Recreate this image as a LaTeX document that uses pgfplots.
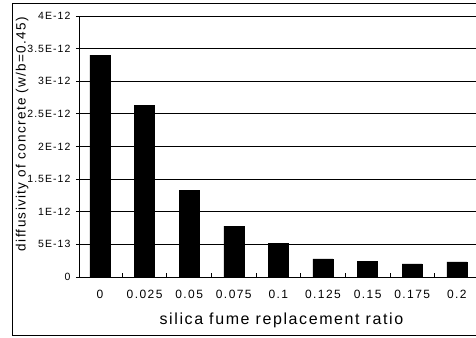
\documentclass[border=0pt]{standalone}
\usepackage{fontspec}
\setmainfont{Liberation Sans}
\newfontfamily\xtfont[LetterSpace=12]{Liberation Sans}
\newfontfamily\ytfont[LetterSpace=10]{Liberation Sans}
\newfontfamily\xlfont[LetterSpace=10]{Liberation Sans}
\newfontfamily\ylfont[LetterSpace=10]{Liberation Sans}
\usepackage{pgfplots}
\pgfplotsset{compat=1.18}
\begin{document}
\begin{tikzpicture}
\path[use as bounding box] (-79pt,-60pt) rectangle (397pt,277pt);
\begin{axis}[
  at={(0,0)}, anchor=south west,
  scale only axis, width=397pt, height=261pt,
  xmin=-0.47, xmax=8.43,
  ymin=0, ymax=4e-12,
  axis x line*=bottom, axis y line*=left,
  axis line style={line width=0.9pt, -},
  ymajorgrids, grid style={black, line width=0.9pt},
  scaled y ticks=false,
  ytick={0,5e-13,1e-12,1.5e-12,2e-12,2.5e-12,3e-12,3.5e-12,4e-12},
  yticklabels={0,5E-13,1E-12,1.5E-12,2E-12,2.5E-12,3E-12,3.5E-12,4E-12},
  xtick={0,1,2,3,4,5,6,7,8},
  xticklabels={0,0.025,0.05,0.075,0.1,0.125,0.15,0.175,0.2},
  minor xtick={0.5,1.5,2.5,3.5,4.5,5.5,6.5,7.5},
  tick align=outside,
  major tick length=3pt,
  major x tick style={draw=none},
  minor x tick style={black, line width=0.8pt, yshift=4pt},
  minor tick length=4pt,
  major y tick style={black, line width=0.8pt},
  yticklabel style={font=\ytfont\fontsize{10.5}{12}\selectfont, xshift=-2pt},
  xticklabel style={font=\xtfont\fontsize{12}{14}\selectfont, yshift=-7pt},
  xlabel={silica fume replacement ratio},
  xlabel style={font=\xlfont\fontsize{16}{18}\selectfont, at={(axis description cs:0.51,-0.165)}, anchor=center},
  ylabel={diffusivity of concrete (w/b=0.45)},
  ylabel style={font=\ylfont\fontsize{13.5}{15}\selectfont, at={(axis description cs:-0.143,0.548)}, anchor=center},
  clip=false,
]
\addplot[ybar, bar width=20pt, fill=black, draw=black] coordinates {
  (0,3.40e-12) (1,2.63e-12) (2,1.33e-12) (3,0.78e-12) (4,0.52e-12)
  (5,0.276e-12) (6,0.245e-12) (7,0.20e-12) (8,0.23e-12)
};
\end{axis}
\draw[line width=0.9pt] (397pt,274pt) -- (-67pt,274pt) -- (-67pt,-58pt) -- (397pt,-58pt);
\end{tikzpicture}
\end{document}
